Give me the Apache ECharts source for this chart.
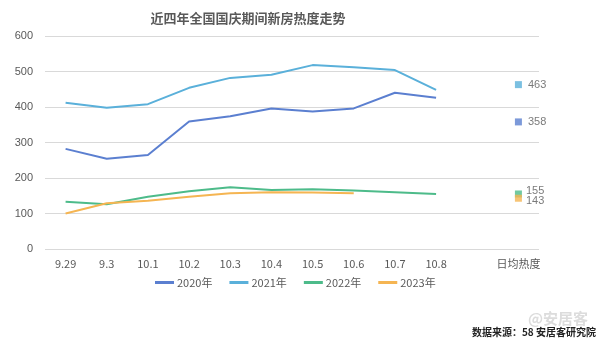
<!DOCTYPE html>
<html><head><meta charset="utf-8">
<script src="https://cdn.jsdelivr.net/npm/echarts@6/dist/echarts.min.js"></script>
<style>html,body{margin:0;padding:0;background:#fff}#c{width:600px;height:343px}</style>
</head><body><div id="c"></div>
<script>
const categories = ['9.29','9.3','10.1','10.2','10.3','10.4','10.5','10.6','10.7','10.8','','日均热度'];
const seriesNames = ['2020年','2021年','2022年','2023年'];
const s2020 = [282,254,265,359,374,396,387,396,440,426];
const s2021 = [412,398,408,454,482,491,518,512,504,448];
const s2022 = [133,126,147,163,174,166,168,165,160,155];
const s2023 = [100,129,136,147,157,160,159,157];
const avgValues = [358,463,155,143];
const yTicks = [0,100,200,300,400,500,600];

const colors = ['#5B7FD0','#5AB0DA','#4DBB8A','#F5B552'];
const lineData = [s2020,s2021,s2022,s2023];
const avgOffsets = [[4,0],[4,0],[2,-3],[2,3]];
const series = [];
lineData.forEach((d,i)=>{
  series.push({name:seriesNames[i],type:'line',data:d,showSymbol:false,symbol:'none',
    lineStyle:{width:2,color:colors[i]},itemStyle:{color:colors[i]},z:3});
});
avgValues.forEach((v,i)=>{
  series.push({name:'avg'+i,type:'scatter',data:[[categories.length-1,v]],symbol:'rect',symbolSize:[7,7],
    itemStyle:{color:colors[i]},
    label:{show:true,position:'right',distance:2,offset:avgOffsets[i],color:'#595959',fontSize:11,formatter:String(v)}});
});
const chart = echarts.init(document.getElementById('c'),null,{renderer:'canvas'});
chart.setOption({
  animation:false,
  title:{text:'近四年全国国庆期间新房热度走势',left:243,textAlign:'center',top:7,
    textStyle:{fontSize:13,fontWeight:'bold',color:'#595959',fontFamily:'Noto Sans CJK SC'}},
  legend:{data:seriesNames,left:150,top:272,itemWidth:19,itemHeight:3,icon:'rect',itemGap:17,
    textStyle:{color:'#595959',fontSize:11,fontFamily:'Noto Sans CJK SC',padding:[0,0,0,-2]}},
  grid:{left:45,right:61,top:36,bottom:94},
  xAxis:{type:'category',data:categories,boundaryGap:true,
    axisLine:{show:false},axisTick:{show:false},
    axisLabel:{color:'#595959',fontSize:11,margin:9,interval:0,fontFamily:'Noto Sans CJK SC'}},
  yAxis:{type:'value',min:yTicks[0],max:yTicks[yTicks.length-1],interval:100,
    axisLine:{show:false},axisTick:{show:false},
    axisLabel:{color:'#595959',fontSize:11,margin:12},
    splitLine:{lineStyle:{color:'#D9D9D9',width:1}}},
  graphic:[
    {type:'text',right:12,top:311,style:{text:'@安居客',fill:'#dcdcdc',font:'bold 15px "Noto Sans CJK SC"'}},
    {type:'text',right:4,top:327,style:{text:'数据来源：58 安居客研究院',fill:'#222',font:'bold 10px "Noto Sans CJK SC"'}}
  ],
  series:series
});
</script></body></html>
